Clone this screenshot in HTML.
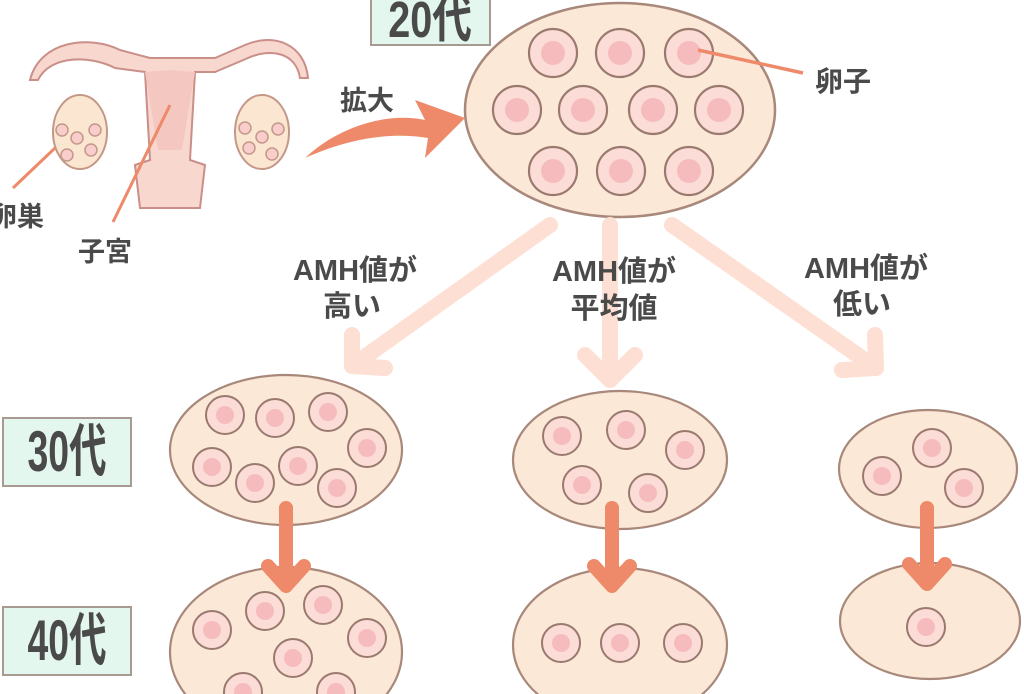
<!DOCTYPE html>
<html><head><meta charset="utf-8"><style>
html,body{margin:0;padding:0;background:#fff;width:1024px;height:694px;overflow:hidden;}
svg{display:block;}
text{font-family:"Liberation Sans","Noto Sans CJK JP",sans-serif;font-weight:bold;fill:#4a4a4a;}
</style></head><body>
<svg width="1024" height="694" viewBox="0 0 1024 694" xmlns="http://www.w3.org/2000/svg">

<!-- uterus illustration -->
<g stroke="#c98f88" stroke-width="2" fill="#f8d7cf">
<path d="M30 80 C40 40 90 35 120 50 L150 58 L215 58 L245 45 C275 32 305 45 308 78 L300 78 C296 52 270 48 248 58 L215 72 L195 72 L190 160 L205 165 L200 208 L140 208 L135 165 L150 160 L145 72 L115 68 C90 55 50 55 38 80 Z"/>
<path d="M145 72 L170 70 L195 72 L182 150 L158 150 Z" fill="#f4c7c0" stroke="none"/>
</g>
<g fill="#fbe6d2" stroke="#c49888" stroke-width="2">
<ellipse cx="80" cy="132" rx="27" ry="37"/>
<ellipse cx="262" cy="132" rx="27" ry="37"/>
</g>
<g fill="#f8cdcb" stroke="#c49888" stroke-width="1.5">
<circle cx="62" cy="130" r="6"/><circle cx="77" cy="138" r="6"/><circle cx="95" cy="130" r="6"/><circle cx="67" cy="155" r="6"/><circle cx="91" cy="150" r="6"/>
<circle cx="245" cy="128" r="6"/><circle cx="262" cy="137" r="6"/><circle cx="278" cy="129" r="6"/><circle cx="249" cy="148" r="6"/><circle cx="272" cy="154" r="6"/>
</g>
<g stroke="#ee8a6a" stroke-width="3">
<line x1="55" y1="148" x2="13" y2="188"/>
<line x1="170" y1="105" x2="113" y2="222"/>
</g>
<text x="-10" y="226" font-size="27">卵巣</text>
<text x="78" y="261" font-size="27">子宮</text>

<!-- 拡大 arrow -->
<path d="M305 158 C340 125 390 112 425 120 L415 100 L465 118 L425 158 L428 138 C390 132 350 138 305 158 Z" fill="#ee8a6a"/>
<text x="340" y="110" font-size="27">拡大</text>

<!-- 20代 box -->
<rect x="371" y="-5" width="119" height="50" fill="#e4f7ee" stroke="#a89a90" stroke-width="2"/>
<text transform="translate(430,37) scale(0.9,1.15)" font-size="44" text-anchor="middle">20代</text>

<!-- big ellipse -->
<ellipse cx="620" cy="110" rx="155" ry="107" fill="#fce8d6" stroke="#a8887a" stroke-width="2.5"/>
<g fill="#fbdcd7" stroke="#9a7a6e" stroke-width="2.2">
<circle cx="553" cy="53" r="24"/><circle cx="620" cy="53" r="24"/><circle cx="689" cy="53" r="24"/>
<circle cx="517" cy="110" r="24"/><circle cx="583" cy="110" r="24"/><circle cx="653" cy="110" r="24"/><circle cx="719" cy="110" r="24"/>
<circle cx="553" cy="171" r="24"/><circle cx="621" cy="171" r="24"/><circle cx="689" cy="171" r="24"/>
</g>
<g fill="#f6bcbd">
<circle cx="553" cy="53" r="12"/><circle cx="620" cy="53" r="12"/><circle cx="689" cy="53" r="12"/>
<circle cx="517" cy="110" r="12"/><circle cx="583" cy="110" r="12"/><circle cx="653" cy="110" r="12"/><circle cx="719" cy="110" r="12"/>
<circle cx="553" cy="171" r="12"/><circle cx="621" cy="171" r="12"/><circle cx="689" cy="171" r="12"/>
</g>
<line x1="698" y1="50" x2="803" y2="73" stroke="#ee8a6a" stroke-width="3.5"/>
<text x="815" y="91" font-size="28">卵子</text>

<!-- light arrows -->
<g stroke="#fde0d3" stroke-width="16" stroke-linecap="round" stroke-linejoin="round" fill="none">
<line x1="550" y1="225" x2="352" y2="366"/>
<polyline points="352,335 352,366 385,368"/>
<line x1="610" y1="225" x2="610" y2="378"/>
<polyline points="585,355 610,380 635,355"/>
<line x1="672" y1="225" x2="876" y2="368"/>
<polyline points="875,335 876,368 842,370"/>
</g>
<g font-size="29" text-anchor="middle">
<text x="355" y="280">AMH値が</text><text x="352" y="316">高い</text>
<text x="614" y="281">AMH値が</text><text x="614" y="318">平均値</text>
<text x="866" y="278">AMH値が</text><text x="862" y="314">低い</text>
</g>

<!-- age labels -->
<rect x="3" y="418" width="128" height="68" fill="#e4f7ee" stroke="#a89a90" stroke-width="2"/>
<text transform="translate(67,471) scale(0.85,1.3)" font-size="44" text-anchor="middle">30代</text>
<rect x="3" y="607" width="128" height="68" fill="#e4f7ee" stroke="#a89a90" stroke-width="2"/>
<text transform="translate(67,660) scale(0.85,1.3)" font-size="44" text-anchor="middle">40代</text>

<!-- ellipses -->
<g fill="#fce8d6" stroke="#a8887a" stroke-width="2.2">
<ellipse cx="286" cy="450" rx="116" ry="75"/>
<ellipse cx="620" cy="460" rx="107" ry="69"/>
<ellipse cx="928" cy="469" rx="89" ry="59"/>
<ellipse cx="286" cy="652" rx="116" ry="85"/>
<ellipse cx="620" cy="645" rx="107" ry="77"/>
<ellipse cx="930" cy="621" rx="90" ry="58"/>
</g>
<g fill="#fbdcd7" stroke="#9a7a6e" stroke-width="2">
<circle cx="225" cy="415" r="19"/><circle cx="275" cy="418" r="19"/><circle cx="328" cy="412" r="19"/><circle cx="367" cy="448" r="19"/><circle cx="212" cy="467" r="19"/><circle cx="255" cy="483" r="19"/><circle cx="298" cy="466" r="19"/><circle cx="337" cy="488" r="19"/>
<circle cx="562" cy="436" r="19"/><circle cx="626" cy="430" r="19"/><circle cx="685" cy="450" r="19"/><circle cx="582" cy="485" r="19"/><circle cx="648" cy="493" r="19"/>
<circle cx="932" cy="448" r="19"/><circle cx="882" cy="476" r="19"/><circle cx="964" cy="488" r="19"/>
<circle cx="212" cy="630" r="19"/><circle cx="265" cy="611" r="19"/><circle cx="323" cy="605" r="19"/><circle cx="367" cy="638" r="19"/><circle cx="293" cy="658" r="19"/><circle cx="243" cy="692" r="19"/><circle cx="336" cy="692" r="19"/>
<circle cx="561" cy="643" r="19"/><circle cx="620" cy="643" r="19"/><circle cx="683" cy="643" r="19"/>
<circle cx="926" cy="627" r="19"/>
</g>
<g fill="#f6bcbd">
<circle cx="225" cy="415" r="9"/><circle cx="275" cy="418" r="9"/><circle cx="328" cy="412" r="9"/><circle cx="367" cy="448" r="9"/><circle cx="212" cy="467" r="9"/><circle cx="255" cy="483" r="9"/><circle cx="298" cy="466" r="9"/><circle cx="337" cy="488" r="9"/>
<circle cx="562" cy="436" r="9"/><circle cx="626" cy="430" r="9"/><circle cx="685" cy="450" r="9"/><circle cx="582" cy="485" r="9"/><circle cx="648" cy="493" r="9"/>
<circle cx="932" cy="448" r="9"/><circle cx="882" cy="476" r="9"/><circle cx="964" cy="488" r="9"/>
<circle cx="212" cy="630" r="9"/><circle cx="265" cy="611" r="9"/><circle cx="323" cy="605" r="9"/><circle cx="367" cy="638" r="9"/><circle cx="293" cy="658" r="9"/><circle cx="243" cy="692" r="9"/><circle cx="336" cy="692" r="9"/>
<circle cx="561" cy="643" r="9"/><circle cx="620" cy="643" r="9"/><circle cx="683" cy="643" r="9"/>
<circle cx="926" cy="627" r="9"/>
</g>

<!-- down arrows -->
<g stroke="#ee8a6a" stroke-width="14" stroke-linecap="round" stroke-linejoin="round" fill="none">
<line x1="286" y1="508" x2="286" y2="585"/><polyline points="268,566 286,586 304,566"/>
<line x1="612" y1="508" x2="612" y2="585"/><polyline points="594,566 612,586 630,566"/>
<line x1="927" y1="508" x2="927" y2="583"/><polyline points="909,564 927,584 945,564"/>
</g>
<g fill="#ee8a6a"><rect x="279" y="506" width="14" height="10"/><rect x="605" y="506" width="14" height="10"/><rect x="920" y="506" width="14" height="10"/></g>
</svg>
</body></html>
